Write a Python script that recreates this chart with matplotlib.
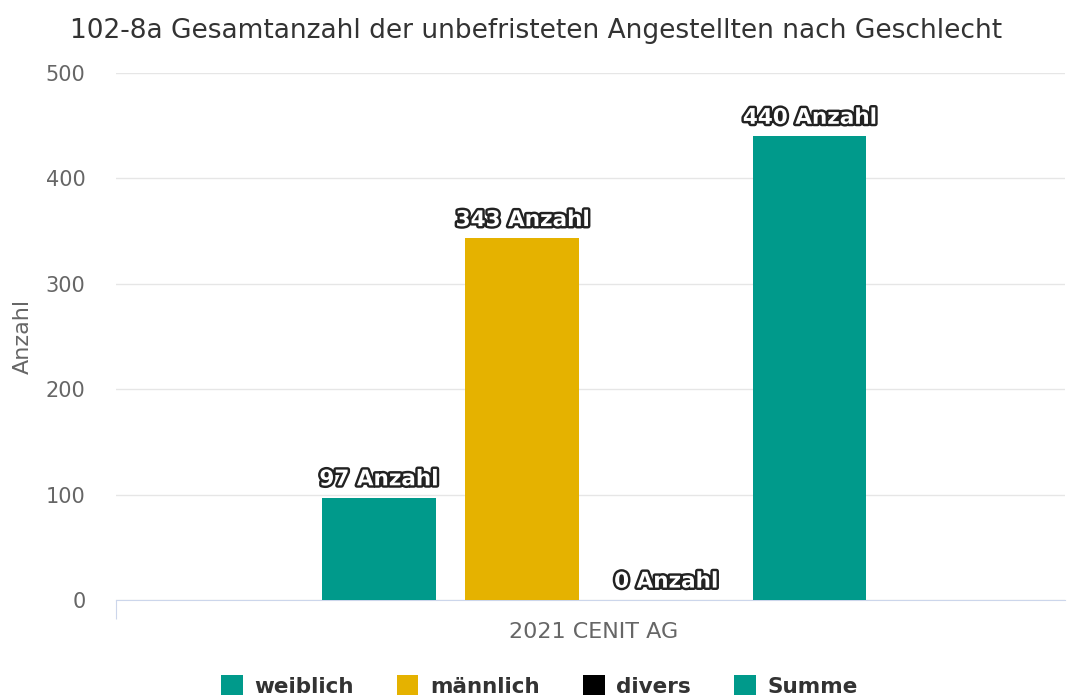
import matplotlib.pyplot as plt
import matplotlib.patheffects as pe
from matplotlib.patches import Patch

plt.rcParams['font.family'] = ['DejaVu Sans']

# Daten
kategorie = "2021 CENIT AG"
serien = ["weiblich", "männlich", "divers", "Summe"]
werte = [97, 343, 0, 440]
farben = ["#009a8b", "#e5b200", "#000000", "#009a8b"]

fig = plt.figure(figsize=(10.67, 7), dpi=100)
ax = fig.add_axes([0.1087, 0.1429, 0.889, 0.7528])

breite = 0.12
abstand = 0.1514
for i, (s, w, c) in enumerate(zip(serien, werte, farben)):
    x = (i - 1.5) * abstand + 0.004
    ax.bar(x, w, width=breite, color=c, zorder=3)
    t = ax.text(x, w + 8, f"{w} Anzahl", ha="center", va="bottom",
                fontsize=15.5, fontweight="bold", color="white", zorder=4)
    t.set_path_effects([pe.withStroke(linewidth=3.5, foreground="#222222")])

ax.set_xlim(-0.5, 0.5)
ax.set_ylim(0, 500)
ax.set_yticks([0, 100, 200, 300, 400, 500])
ax.grid(axis="y", color="#e6e6e6", linewidth=1, zorder=0)
for sp in ["top", "right", "left"]:
    ax.spines[sp].set_visible(False)
ax.spines["bottom"].set_color("#ccd6eb")
ax.tick_params(axis="y", length=0, labelsize=15, labelcolor="#666666", pad=22)
ax.set_xticks([-0.5])
ax.set_xticklabels([""])
ax.tick_params(axis="x", length=14, color="#ccd6eb")
ax.text(0.004, -21, kategorie, ha="center", va="top", fontsize=16, color="#666666")
ax.set_ylabel("Anzahl", fontsize=16, color="#666666", labelpad=9)

fig.text(0.502, 0.955, "102-8a Gesamtanzahl der unbefristeten Angestellten nach Geschlecht",
         ha="center", va="center", fontsize=19, color="#333333")

handles = [Patch(facecolor=c, label=s) for s, c in zip(serien, farben)]
leg = fig.legend(handles=handles, loc="center", bbox_to_anchor=(0.5056, 0.02), ncol=4,
                 frameon=False, handlelength=1.0, handleheight=1.0, columnspacing=2.0,
                 handletextpad=0.55, prop={"weight": "bold", "size": 15.5})
for t in leg.get_texts():
    t.set_color("#333333")

plt.savefig("out.png", dpi=100)
